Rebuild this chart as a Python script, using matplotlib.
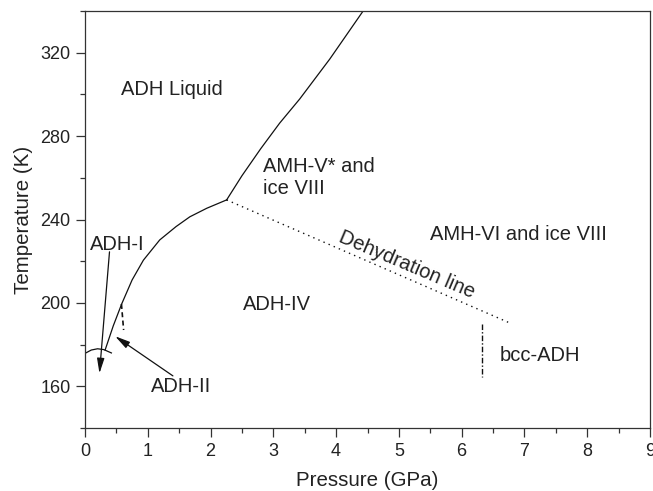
import matplotlib
matplotlib.use("Agg")
import matplotlib.pyplot as plt
from matplotlib.ticker import MultipleLocator

plt.rcParams['font.family'] = ['Liberation Sans', 'DejaVu Sans']

# Data
low_p = [0.32, 0.45, 0.584, 0.75, 0.93, 1.19, 1.45, 1.67, 1.94, 2.256]
low_t = [177.4, 189.0, 199.5, 211.0, 220.5, 230.2, 236.6, 241.3, 245.4, 249.4]
melt_p = [2.256, 2.5, 2.8, 3.1, 3.42, 3.9, 4.43]
melt_t = [249.4, 261.0, 274.0, 286.2, 297.8, 317.0, 340.0]
dehyd_p = [2.256, 6.78]
dehyd_t = [249.4, 190.2]
bcc_p = [6.33, 6.33]
bcc_t = [189.9, 164.6]
adh2_p = [0.58, 0.615]
adh2_t = [199.5, 187.0]
arc_p = [0.0, 0.1, 0.2, 0.3, 0.42]
arc_t = [175.8, 177.4, 178.0, 177.6, 176.0]

labels = [
    ("ADH Liquid", 0.57, 302.4),
    ("ADH-I", 0.08, 227.8),
    ("ADH-II", 1.046, 159.8),
    ("ADH-IV", 2.52, 199.0),
    ("AMH-V* and\nice VIII", 2.84, 260.2),
    ("AMH-VI and ice VIII", 5.49, 232.6),
    ("bcc-ADH", 6.61, 175.0),
]

fig = plt.figure(figsize=(6.53, 4.91), dpi=100)
ax = fig.add_axes([0.1302, 0.1283, 0.8652, 0.8493])

lc = '#111111'
ax.plot(low_p, low_t, color=lc, lw=0.9)
ax.plot(melt_p, melt_t, color=lc, lw=0.9)
ax.plot(dehyd_p, dehyd_t, color=lc, lw=1.0, linestyle=(0, (1, 3)))
ax.plot(bcc_p, bcc_t, color=lc, lw=1.0, linestyle=(0, (4, 1.5, 1, 1.5)))
ax.plot(adh2_p, adh2_t, color=lc, lw=1.2, linestyle=(0, (3, 2)))
ax.plot(arc_p, arc_t, color=lc, lw=0.9)

for txt, x, y in labels:
    ax.text(x, y, txt, fontsize=14.5, color='#222222', ha='left', va='center',
            linespacing=1.25)

ax.text(5.12, 218.2, "Dehydration line", fontsize=14.5, color='#222222',
        ha='center', va='center', rotation=-23, rotation_mode='anchor')

arrowprops = dict(arrowstyle='-|>,head_length=0.9,head_width=0.22', color=lc,
                  lw=0.9, shrinkA=0, shrinkB=0)
ax.annotate("", xy=(0.23, 166.2), xytext=(0.39, 224.5), arrowprops=arrowprops)
ax.annotate("", xy=(0.48, 184.0), xytext=(1.4, 165.0), arrowprops=arrowprops)

ax.set_xlim(0, 9)
ax.set_ylim(140, 340)
ax.xaxis.set_major_locator(MultipleLocator(1))
ax.xaxis.set_minor_locator(MultipleLocator(0.5))
ax.yaxis.set_major_locator(MultipleLocator(40))
ax.yaxis.set_minor_locator(MultipleLocator(20))
ax.set_yticks([160, 200, 240, 280, 320])
ax.tick_params(which='major', direction='out', length=6.5, width=0.9,
               colors='#333333', labelsize=13, labelcolor='#222222', pad=4)
ax.tick_params(which='minor', direction='out', length=3.6, width=0.9,
               colors='#333333')
for s in ax.spines.values():
    s.set_color('#333333')
    s.set_linewidth(0.9)

ax.set_xlabel("Pressure (GPa)", fontsize=14.8, color='#222222', labelpad=8)
ax.set_ylabel("Temperature (K)", fontsize=14.8, color='#222222', labelpad=5)

fig.savefig("out.png", dpi=100)
